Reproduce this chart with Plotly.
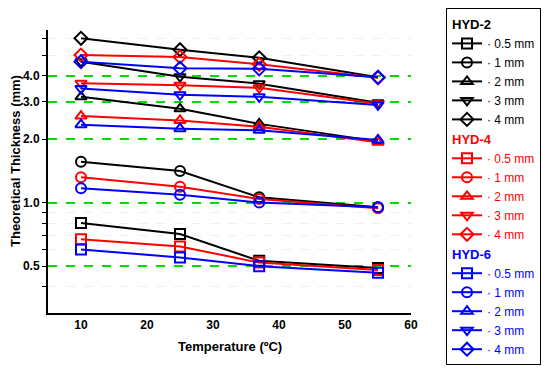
import math
import plotly.graph_objects as go

temps = [10, 25, 37, 55]
thickness_labels = ["0.5 mm", "1 mm", "2 mm", "3 mm", "4 mm"]
symbols = ["square-open", "circle-open", "triangle-up-open", "triangle-down-open", "diamond-open"]

hyd2 = [
    [0.80, 0.71, 0.53, 0.49],
    [1.56, 1.41, 1.06, 0.95],
    [3.17, 2.78, 2.36, 1.95],
    [4.65, 3.95, 3.66, 2.97],
    [6.00, 5.30, 4.85, 3.92],
]
hyd4 = [
    [0.67, 0.62, 0.52, 0.48],
    [1.32, 1.19, 1.04, 0.94],
    [2.57, 2.45, 2.29, 1.93],
    [3.68, 3.60, 3.50, 2.94],
    [5.00, 4.90, 4.52, 3.90],
]
hyd6 = [
    [0.60, 0.55, 0.50, 0.465],
    [1.17, 1.09, 1.00, 0.95],
    [2.34, 2.24, 2.20, 1.98],
    [3.47, 3.24, 3.17, 2.90],
    [4.65, 4.33, 4.30, 3.92],
]
groups = [("HYD-2", "#000000", hyd2), ("HYD-4", "#ff0000", hyd4), ("HYD-6", "#0000ff", hyd6)]

y_major = [0.5, 1.0, 2.0, 3.0, 4.0]
y_major_text = ["0.5", "1.0", "2.0", "3.0", "4.0"]
y_minor = [0.4, 0.6, 0.7, 0.8, 0.9, 5, 6]
x_ticks = [10, 20, 30, 40, 50, 60]

FONT = "Liberation Sans, Arial, sans-serif"

# the page body has an 8px margin, so the figure is 8px smaller and offset
W, H = 542, 364

fig = go.Figure()
for gname, color, data in groups:
    for i, vals in enumerate(data):
        fig.add_trace(go.Scatter(
            x=temps, y=vals, mode="lines+markers",
            line=dict(color=color, width=2),
            marker=dict(symbol=symbols[i], size=10, color=color, line=dict(width=2, color=color)),
            name=f'<span style="color:{color}">· {thickness_labels[i]}</span>',
            legendgroup=gname,
            legendgrouptitle=dict(text=f"<b>{gname}</b>", font=dict(color=color, size=13, family=FONT)),
        ))

fig.update_layout(
    width=W, height=H,
    margin=dict(l=40, r=139, t=22, b=59, autoexpand=False),
    paper_bgcolor="white", plot_bgcolor="white",
    font=dict(family=FONT, color="black", size=12),
    legend=dict(
        xref="container", yref="container",
        x=438 / W, y=1 - 0 / H, xanchor="left", yanchor="top",
        bordercolor="black", borderwidth=1, bgcolor="white",
        font=dict(size=12, family=FONT), tracegroupgap=0, itemwidth=30,
        maxheight=H,
    ),
    xaxis=dict(
        range=[5, 60], tickvals=x_ticks, ticktext=[f"<b>{v}</b>" for v in x_ticks],
        ticks="", showgrid=False, zeroline=False,
        showline=True, linecolor="black", linewidth=2,
        tickfont=dict(size=12, family=FONT, color="black"),
    ),
    yaxis=dict(
        type="log", range=[math.log10(0.3), math.log10(6.57)],
        tickvals=y_major, ticktext=[f"<b>{t}</b>" for t in y_major_text],
        ticks="outside", ticklen=4, tickwidth=1, tickcolor="black",
        showgrid=True, gridcolor="#00dd00", griddash="dash", gridwidth=1.5,
        showline=True, linecolor="black", linewidth=2, zeroline=False,
        tickfont=dict(size=12, family=FONT, color="black"),
        minor=dict(tickvals=y_minor, ticks="outside", ticklen=4, tickcolor="black",
                   showgrid=True, gridcolor="#f0f0f0", gridwidth=1),
    ),
    annotations=[
        dict(text="<b>Theoretical Thickness (mm)</b>", xref="paper", yref="paper",
             x=(15 - 48) / 363, y=(313 - 161) / 283, textangle=-90, showarrow=False,
             xanchor="center", yanchor="middle", font=dict(size=13, family=FONT, color="black")),
        dict(text="<b>Temperature (ºC)</b>", xref="paper", yref="paper",
             x=0.5, y=(313 - 346) / 283, showarrow=False,
             xanchor="center", yanchor="middle", font=dict(size=13, family=FONT, color="black")),
    ],
)

fig.write_html("out.html")
